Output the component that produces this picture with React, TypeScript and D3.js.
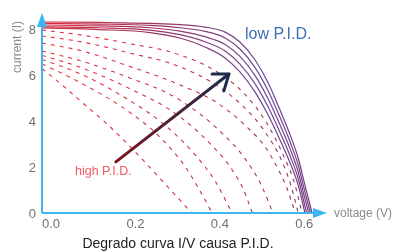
import React from "react";
import * as d3 from "d3";

// ---- data (voltage V, current I) ----
const xTicks = [0.0, 0.2, 0.4, 0.6];
const yTicks = [0, 2, 4, 6, 8];

// low P.I.D. (solid) curves
const solidV = [0, 0.137, 0.256, 0.327, 0.386, 0.434, 0.469, 0.505, 0.536, 0.564, 0.588, 0.607, 0.623];
const solid1I = [8.34, 8.32, 8.28, 8.23, 8.12, 7.9, 7.47, 6.68, 5.68, 4.5, 3.41, 2.4, 1.22];
const solid2I = [8.28, 8.25, 8.19, 8.09, 7.93, 7.64, 7.16, 6.35, 5.33, 4.18, 3.1, 2.1, 0.92];
const solid3I = [8.21, 8.17, 8.09, 7.94, 7.7, 7.36, 6.84, 6.0, 4.98, 3.85, 2.8, 1.8, 0.62];
const solid4I = [8.14, 8.09, 7.99, 7.79, 7.48, 7.07, 6.5, 5.64, 4.63, 3.52, 2.49, 1.51, 0.31];
const solid5I = [8.08, 8.01, 7.88, 7.64, 7.25, 6.77, 6.16, 5.28, 4.28, 3.19, 2.18, 1.22, 0];
const solidVoc = [0.64, 0.636, 0.632, 0.627, 0.623];

// degraded (dashed) curves
const d3V = [0, 0.1, 0.2, 0.327, 0.42, 0.48, 0.53, 0.57, 0.6, 0.616];
const d3I = [7.99, 7.75, 7.42, 6.9, 6.1, 5.2, 4.0, 2.6, 1.2, 0];
const d2V = [0, 0.1, 0.2, 0.327, 0.42, 0.48, 0.53, 0.57, 0.59, 0.607];
const d2I = [7.73, 7.45, 7.02, 6.38, 5.5, 4.6, 3.5, 2.2, 1.2, 0];
const d1V = [0, 0.1, 0.2, 0.327, 0.42, 0.48, 0.53, 0.56, 0.58, 0.6];
const d1I = [7.42, 7.05, 6.45, 5.59, 4.75, 3.85, 2.85, 1.9, 1.1, 0];
const l5V = [0, 0.1, 0.2, 0.327, 0.42, 0.48, 0.52, 0.547];
const l5I = [7.07, 6.6, 5.95, 4.93, 3.6, 2.4, 1.2, 0];
const l4V = [0, 0.1, 0.2, 0.327, 0.4, 0.45, 0.478, 0.498];
const l4I = [6.88, 6.3, 5.5, 4.2, 3.0, 1.9, 1.0, 0];
const l3V = [0, 0.1, 0.2, 0.3, 0.36, 0.41, 0.45];
const l3I = [6.7, 6.0, 5.0, 3.7, 2.6, 1.4, 0];
const l2V = [0, 0.1, 0.2, 0.28, 0.34, 0.403];
const l2I = [6.51, 5.6, 4.5, 3.3, 2.0, 0];
const l1V = [0, 0.05, 0.1, 0.154, 0.196, 0.25, 0.3, 0.355];
const l1I = [6.31, 5.55, 4.75, 3.89, 3.14, 2.1, 1.1, 0];

// arrow annotation (V, I)
const arrowStart = [0.175, 2.23];
const arrowTip = [0.443, 6.07];
const arrowWing1 = [0.403, 6.07];
const arrowWing2 = [0.431, 5.33];

type P = [number, number];
const zip = (v: number[], i: number[]): P[] => v.map((vv, k) => [vv, i[k]] as P);

export default function App() {
  const W = 395, H = 251;
  const x = d3.scaleLinear().domain([0, 0.6]).range([42, 295.2]);
  const y = d3.scaleLinear().domain([0, 8]).range([213, 29.8]);
  const line = d3
    .line<P>()
    .x((d) => x(d[0]))
    .y((d) => y(d[1]))
    .curve(d3.curveMonotoneX);

  const solids = [solid1I, solid2I, solid3I, solid4I, solid5I].map((arr, k) => {
    const pts = zip(solidV, arr).filter((p) => p[0] < solidVoc[k]);
    pts.push([solidVoc[k], 0]);
    return pts;
  });
  const dashed = [
    zip(d3V, d3I),
    zip(d2V, d2I),
    zip(d1V, d1I),
    zip(l5V, l5I),
    zip(l4V, l4I),
    zip(l3V, l3I),
    zip(l2V, l2I),
    zip(l1V, l1I),
  ];

  const axisColor = "#3db5ef";
  const font = "'Liberation Sans', Arial, Helvetica, sans-serif";
  const x0 = x(0), y0 = y(0);
  const xEnd = 313, yTop = 27;

  return (
    <div style={{ position: "fixed", left: 0, top: 0 }}>
      <svg width={W} height={H} style={{ display: "block" }}>
        <defs>
          <linearGradient id="gSolid" gradientUnits="userSpaceOnUse" x1={42} y1={0} x2={312} y2={0}>
            <stop offset="0%" stopColor="#d82a3c" />
            <stop offset="45%" stopColor="#9a3566" />
            <stop offset="80%" stopColor="#6a4a98" />
            <stop offset="100%" stopColor="#7a3a80" />
          </linearGradient>
          <linearGradient id="gDash" gradientUnits="userSpaceOnUse" x1={42} y1={0} x2={312} y2={0}>
            <stop offset="0%" stopColor="#f0303e" />
            <stop offset="55%" stopColor="#c8304e" />
            <stop offset="100%" stopColor="#8a3a70" />
          </linearGradient>
          <linearGradient
            id="gArrow"
            gradientUnits="userSpaceOnUse"
            x1={x(arrowStart[0])}
            y1={y(arrowStart[1])}
            x2={x(arrowTip[0])}
            y2={y(arrowTip[1])}
          >
            <stop offset="0%" stopColor="#7e1418" />
            <stop offset="100%" stopColor="#1c2c4c" />
          </linearGradient>
        </defs>

        {dashed.map((pts, k) => (
          <path
            key={"d" + k}
            d={line(pts) || ""}
            fill="none"
            stroke="url(#gDash)"
            strokeWidth={1.1}
            strokeDasharray="4,5"
          />
        ))}
        {solids.map((pts, k) => (
          <path key={"s" + k} d={line(pts) || ""} fill="none" stroke="url(#gSolid)" strokeWidth={1.2} />
        ))}

        {/* arrow */}
        <g stroke="url(#gArrow)" strokeWidth={3} strokeLinecap="round" strokeLinejoin="round" fill="none">
          <line x1={x(arrowStart[0])} y1={y(arrowStart[1])} x2={x(arrowTip[0])} y2={y(arrowTip[1])} />
        </g>
        <polyline
          points={`${x(arrowWing1[0])},${y(arrowWing1[1])} ${x(arrowTip[0])},${y(arrowTip[1])} ${x(arrowWing2[0])},${y(arrowWing2[1])}`}
          fill="none"
          stroke="#1c2c4c"
          strokeWidth={3}
          strokeLinecap="round"
          strokeLinejoin="round"
        />

        {/* axes */}
        <line x1={x0} y1={y0} x2={xEnd} y2={y0} stroke={axisColor} strokeWidth={2} />
        <polygon points={`${xEnd},${y0 - 5} ${xEnd + 14},${y0} ${xEnd},${y0 + 5}`} fill={axisColor} />
        <line x1={x0} y1={y0} x2={x0} y2={yTop} stroke={axisColor} strokeWidth={2} />
        <polygon points={`${x0 - 5},${yTop} ${x0},${yTop - 14} ${x0 + 5},${yTop}`} fill={axisColor} />

        {/* tick labels */}
        {xTicks.map((t) => (
          <text key={"x" + t} x={x(t)} y={228} fontSize={13} fill="#707070" fontFamily={font}>
            {d3.format(".1f")(t)}
          </text>
        ))}
        {yTicks.map((t) => (
          <text key={"y" + t} x={36} y={y(t) + 4.6} fontSize={13} fill="#707070" fontFamily={font} textAnchor="end">
            {t}
          </text>
        ))}

        {/* axis titles */}
        <text
          transform={`translate(21,47) rotate(-90)`}
          fontSize={12}
          fill="#8a8a8a"
          fontFamily={font}
          textAnchor="middle"
        >
          current (I)
        </text>
        <text x={334} y={217} fontSize={12} fill="#8a8a8a" fontFamily={font}>
          voltage (V)
        </text>

        {/* annotations */}
        <text x={245} y={39} fontSize={16} fill="#3e6fb8" fontFamily={font}>
          low P.I.D.
        </text>
        <text x={75} y={175} fontSize={12.5} fill="#f05a64" fontFamily={font}>
          high P.I.D.
        </text>
        <text x={178} y={247.5} fontSize={14} fill="#222" fontFamily={font} textAnchor="middle">
          Degrado curva I/V causa P.I.D.
        </text>
      </svg>
    </div>
  );
}
